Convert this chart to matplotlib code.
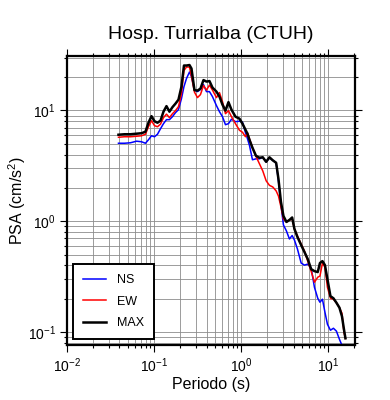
import matplotlib
matplotlib.use("Agg")
import matplotlib.pyplot as plt
from matplotlib.ticker import LogLocator, NullFormatter, LogFormatterMathtext

plt.rcParams['font.family'] = ['Liberation Sans', 'DejaVu Sans']
plt.rcParams['mathtext.fontset'] = 'custom'
plt.rcParams['mathtext.rm'] = 'Liberation Sans'
plt.rcParams['mathtext.it'] = 'Liberation Sans:italic'

# periodos (s)
periodo = [0.0390, 0.0457, 0.0536, 0.0628, 0.0717, 0.0796, 0.0862, 0.0934, 0.1011, 0.1094,
           0.1185, 0.1282, 0.1388, 0.1502, 0.1626, 0.1760, 0.1906, 0.2063, 0.2204, 0.2355,
           0.2549, 0.2688, 0.2909, 0.3149, 0.3409, 0.3692, 0.3996, 0.4325, 0.4683, 0.5205,
           0.5635, 0.6100, 0.6603, 0.7148, 0.7738, 0.8603, 0.9561, 1.035, 1.121, 1.181,
           1.245, 1.348, 1.479, 1.622, 1.770, 1.936, 2.113, 2.306, 2.522, 2.681,
           2.864, 3.059, 3.312, 3.585, 3.850, 4.092, 4.430, 4.886, 5.331, 5.817,
           6.364, 6.943, 7.577, 8.029, 8.580, 9.166, 9.790, 10.60, 11.47, 12.42,
           13.45, 14.37, 15.15, 15.76]

psa_max = [6.04, 6.10, 6.10, 6.17, 6.23, 6.43, 7.75, 8.88, 8.00, 7.75,
           8.09, 9.75, 10.94, 9.75, 10.71, 11.52, 12.52, 16.42, 25.43, 25.43,
           25.70, 23.89, 15.27, 15.11, 15.75, 18.80, 18.22, 18.42, 16.08, 14.79,
           13.33, 11.28, 9.96, 11.89, 10.17, 8.79, 8.43, 7.60, 6.70, 6.17,
           5.44, 4.61, 3.90, 3.74, 3.78, 3.44, 3.78, 3.55, 3.37, 2.41,
           1.495, 1.117, 0.986, 1.028, 1.082, 0.852, 0.721, 0.610, 0.528, 0.456,
           0.370, 0.355, 0.348, 0.420, 0.437, 0.402, 0.300, 0.211, 0.202, 0.184,
           0.166, 0.139, 0.106, 0.0879]

psa_ew = [5.73, 5.79, 5.79, 5.85, 5.91, 6.10, 7.13, 8.09, 7.29, 7.13,
          7.52, 8.61, 9.26, 8.61, 9.35, 9.96, 10.82, 14.19, 22.92, 24.65,
          24.65, 20.23, 14.64, 13.06, 13.90, 16.77, 15.27, 16.94, 15.27, 13.06,
          14.49, 12.01, 9.35, 9.96, 8.79, 7.60, 6.63, 6.36, 5.79, 6.30,
          5.56, 4.61, 3.86, 3.30, 2.85, 2.32, 2.11, 2.04, 1.88, 1.69,
          1.347, 1.049, 0.986, 1.028, 1.049, 0.852, 0.736, 0.623, 0.538, 0.437,
          0.355, 0.282, 0.313, 0.320, 0.420, 0.386, 0.254, 0.202, 0.198, 0.184,
          0.166, 0.148, 0.0996, 0.0879]

psa_ns = [5.06, 5.06, 5.11, 5.28, 5.22, 5.06, 5.44, 5.91, 5.79, 6.10,
          6.84, 7.60, 8.26, 8.26, 8.79, 9.55, 10.17, 12.79, 16.42, 19.40,
          22.22, 20.23, 15.27, 14.79, 15.43, 17.12, 14.79, 14.79, 13.33, 11.05,
          9.75, 8.79, 7.44, 7.60, 8.34, 7.92, 8.00, 7.84, 6.30, 5.56,
          4.85, 3.59, 3.66, 3.66, 3.78, 3.44, 3.74, 3.55, 3.37, 2.32,
          1.405, 0.926, 0.817, 0.692, 0.744, 0.677, 0.562, 0.420, 0.402, 0.411,
          0.378, 0.254, 0.202, 0.186, 0.198, 0.151, 0.1177, 0.104, 0.1083, 0.102,
          0.0861, 0.0760, 0.070, 0.066]

fig = plt.figure(figsize=(3.9, 4.0), dpi=100)
ax = fig.add_axes([0.1718, 0.1375, 0.7385, 0.7225])

ax.plot(periodo, psa_ns, color='blue', lw=1.1, label='NS')
ax.plot(periodo, psa_ew, color='red', lw=1.1, label='EW')
ax.plot(periodo, psa_max, color='black', lw=1.8, label='MAX')

ax.set_xscale('log')
ax.set_yscale('log')
ax.set_xlim(0.01, 20.3)
ax.set_ylim(0.0765, 31)

for a in (ax.xaxis, ax.yaxis):
    a.set_major_locator(LogLocator(base=10))
    a.set_minor_locator(LogLocator(base=10, subs=range(2, 10)))
    a.set_minor_formatter(NullFormatter())
    a.set_major_formatter(LogFormatterMathtext())

ax.grid(True, which='both', color='#8c8c8c', lw=0.6)
ax.tick_params(which='both', direction='out', top=True, right=True, labelsize=10, width=0.8)
ax.tick_params(which='major', length=5, pad=3)
ax.tick_params(which='minor', length=2.5)
for s in ax.spines.values():
    s.set_linewidth(1.6)

ax.set_title('Hosp. Turrialba (CTUH)', fontsize=14, pad=12)
ax.set_xlabel('Periodo (s)', fontsize=11.5, labelpad=2)
ax.set_ylabel('PSA (cm/s$^2$)', fontsize=11.5)
ax.yaxis.set_label_coords(-0.135, 0.5)

leg = ax.legend(loc='lower left', bbox_to_anchor=(0.021, 0.021), borderaxespad=0,
                fontsize=9, fancybox=False, framealpha=1, edgecolor='black',
                handlelength=1.8, borderpad=0.8, labelspacing=0.75, handletextpad=0.9)
leg.get_frame().set_linewidth(1.4)

fig.savefig('out.png', dpi=100)
